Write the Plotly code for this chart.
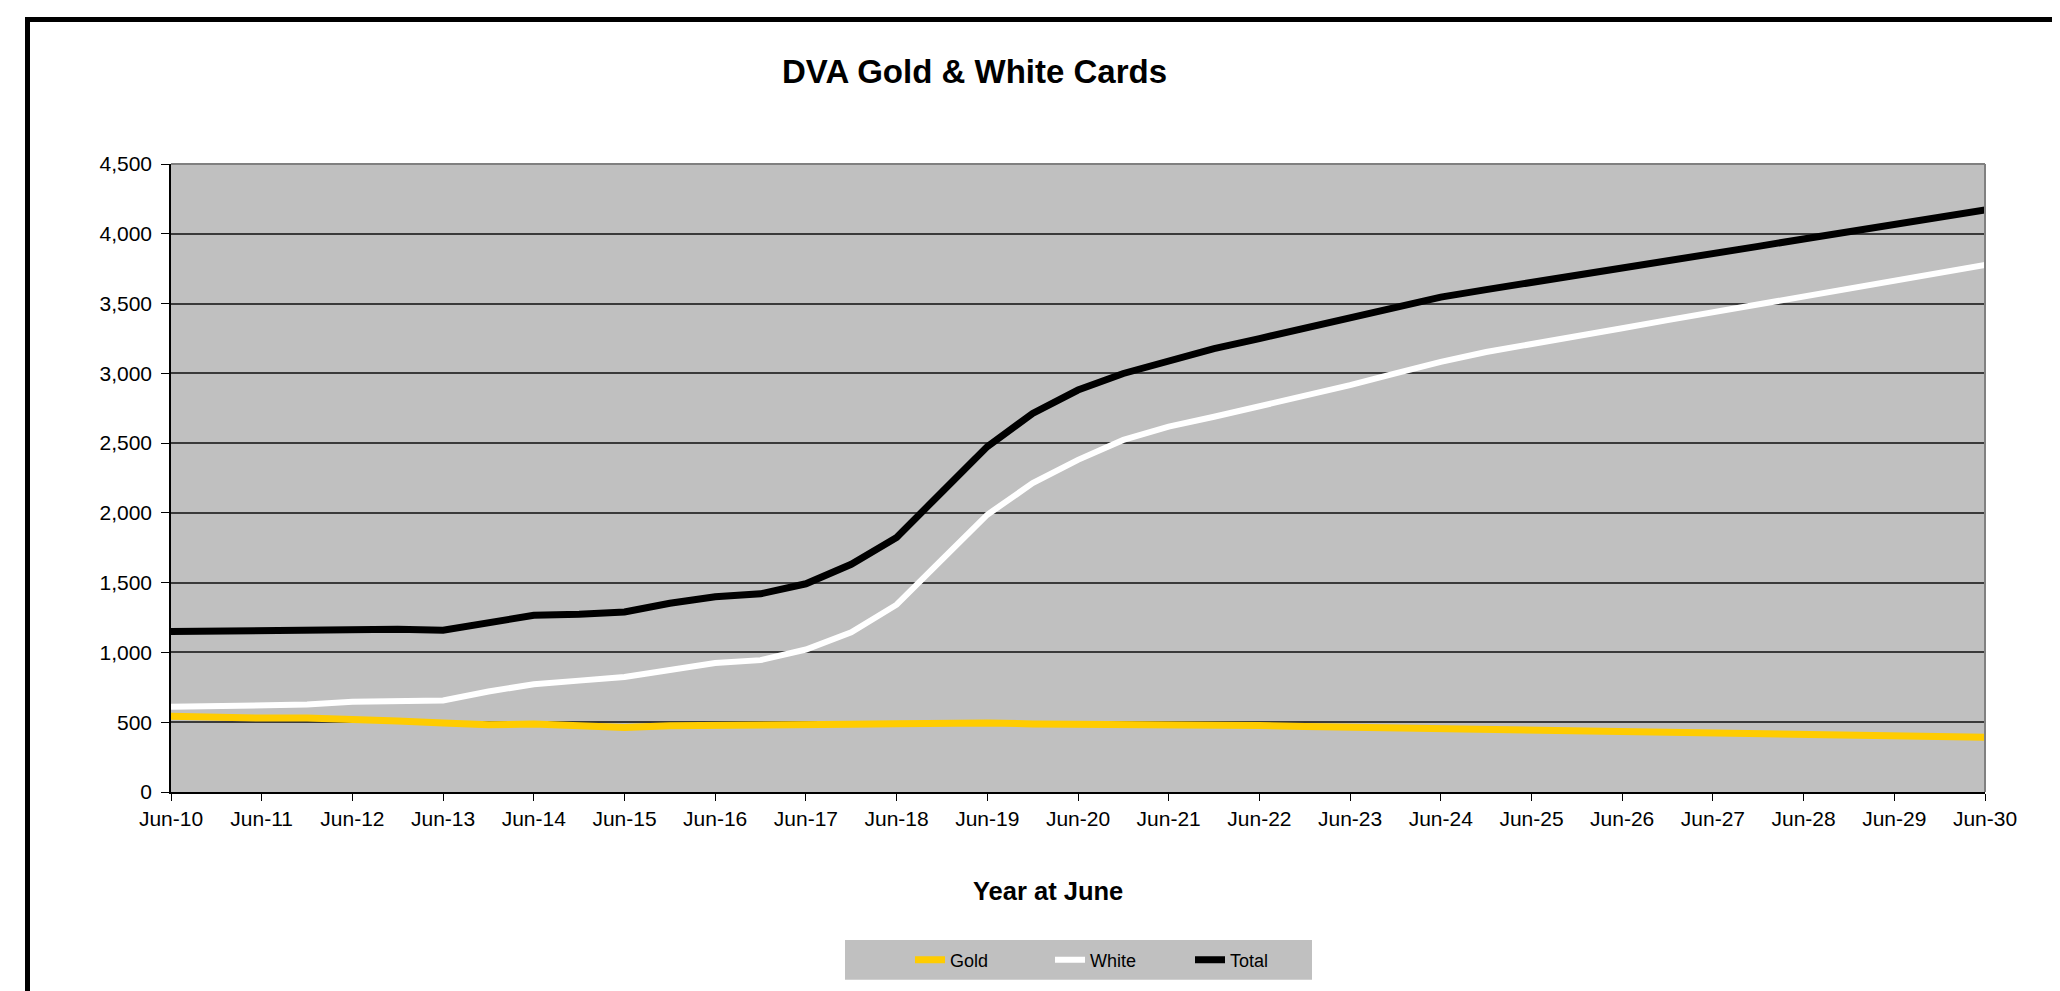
import plotly.graph_objects as go

# ---------------- data ----------------
periods = [
    "Jun-10", "Dec-10", "Jun-11", "Dec-11", "Jun-12", "Dec-12", "Jun-13", "Dec-13",
    "Jun-14", "Dec-14", "Jun-15", "Dec-15", "Jun-16", "Dec-16", "Jun-17", "Dec-17",
    "Jun-18", "Dec-18", "Jun-19", "Dec-19", "Jun-20", "Dec-20", "Jun-21", "Dec-21",
    "Jun-22", "Dec-22", "Jun-23", "Dec-23", "Jun-24", "Dec-24", "Jun-25", "Dec-25",
    "Jun-26", "Dec-26", "Jun-27", "Dec-27", "Jun-28", "Dec-28", "Jun-29", "Dec-29",
    "Jun-30",
]
tick_labels = [p for p in periods if p.startswith("Jun")]

gold = [542, 532, 530, 530, 523, 508, 494, 482, 487, 477, 463, 475, 475, 475, 473, 485,
        489, 493, 495, 488, 488, 483, 478, 478, 476, 469, 464, 459, 455, 450, 443, 438,
        433, 426, 419, 414, 409, 405, 400, 395, 393]
white = [610, 618, 625, 627, 646, 651, 656, 720, 772, 798, 824, 874, 924, 945, 1021, 1145,
         1342, 1665, 1987, 2213, 2380, 2523, 2618, 2689, 2761, 2837, 2915, 2999, 3082, 3153,
         3207, 3265, 3323, 3381, 3439, 3497, 3554, 3610, 3666, 3722, 3777]
total = [1150, 1154, 1162, 1162, 1171, 1166, 1159, 1209, 1266, 1273, 1290, 1352, 1399, 1420,
         1492, 1632, 1824, 2150, 2475, 2713, 2880, 2999, 3094, 3177, 3249, 3325, 3396, 3475,
         3546, 3600, 3650, 3700, 3752, 3805, 3857, 3910, 3963, 4015, 4068, 4120, 4170]

series_names = ["Gold", "White", "Total"]
series_colors = ["#FFCC00", "#FFFFFF", "#000000"]
series_widths = [7, 6, 7]

# ---------------- layout geometry ----------------
# The page body has an 8px margin, so the figure starts at page (8, 8).
OFF = 8
W, H = 2060 - OFF, 991 - OFF
PLOT_L, PLOT_R, PLOT_T, PLOT_B = 171, 1985, 164, 796   # page coordinates
ML, MT = PLOT_L - OFF, PLOT_T - OFF
MR, MB = W - (PLOT_R - OFF), H - (PLOT_B - OFF)
PW, PH = W - ML - MR, H - MT - MB


def px2x(px):  # page x -> paper x
    return (px - OFF - ML) / PW


def px2y(py):  # page y -> paper y
    return 1 - (py - OFF - MT) / PH


FONT = "Arial, 'Liberation Sans', sans-serif"

fig = go.Figure()
for name, vals, col, wd in zip(series_names, [gold, white, total], series_colors, series_widths):
    fig.add_trace(go.Scatter(
        x=periods, y=vals, name=name, mode="lines",
        line=dict(color=col, width=wd),
    ))

fig.update_layout(
    width=W, height=H,
    margin=dict(l=ML, r=MR, t=MT, b=MB, pad=0),
    paper_bgcolor="white",
    plot_bgcolor="#C0C0C0",
    font=dict(family=FONT, color="black", size=21),
    showlegend=True,
    legend=dict(
        orientation="h",
        x=px2x(910), xanchor="left",
        y=px2y(965), yanchor="middle",
        bgcolor="rgba(0,0,0,0)",
        borderwidth=0,
        font=dict(family=FONT, size=18, color="black"),
        entrywidth=95, entrywidthmode="pixels",
        itemwidth=30,
    ),
    xaxis=dict(
        type="category",
        categoryorder="array", categoryarray=periods,
        range=[0, len(periods) - 1],
        tickmode="array", tickvals=tick_labels, ticktext=tick_labels,
        showgrid=False, zeroline=False,
        showline=True, linecolor="black", linewidth=1.5,
        ticks="outside", ticklen=7, tickcolor="black", tickwidth=1,
        tickfont=dict(family=FONT, size=21, color="black"),
        ticklabelstandoff=0,
    ),
    yaxis=dict(
        range=[0, 4500], dtick=500, tick0=0,
        tickformat=",d",
        showgrid=True, gridcolor="#3a3a3a", gridwidth=1.5,
        zeroline=False,
        showline=True, linecolor="black", linewidth=1.5,
        ticks="outside", ticklen=8, tickcolor="black", tickwidth=1,
        tickfont=dict(family=FONT, size=21, color="black"),
        ticklabelstandoff=5,
    ),
    annotations=[
        dict(text="<b>DVA Gold &amp; White Cards</b>", xref="paper", yref="paper",
             x=px2x(974), y=px2y(71), xanchor="center", yanchor="middle",
             showarrow=False, font=dict(family=FONT, size=33, color="black")),
        dict(text="<b>Year at June</b>", xref="paper", yref="paper",
             x=px2x(1048), y=px2y(896), xanchor="center", yanchor="middle",
             showarrow=False, font=dict(family=FONT, size=25.5, color="black")),
    ],
    shapes=[
        # legend box background
        dict(type="rect", xref="paper", yref="paper",
             x0=px2x(845), x1=px2x(1312), y0=px2y(985), y1=px2y(945),
             line=dict(width=0), fillcolor="#C0C0C0", layer="below"),
        # grey plot-area border (top and right)
        dict(type="line", xref="paper", yref="paper", x0=0, x1=1, y0=1, y1=1,
             line=dict(color="#808080", width=2), layer="above"),
        dict(type="line", xref="paper", yref="paper", x0=1, x1=1, y0=0, y1=1,
             line=dict(color="#808080", width=2), layer="above"),
        # outer chart-area frame (extends past the window right and bottom)
        dict(type="rect", xref="paper", yref="paper",
             x0=px2x(27.5), x1=px2x(2150), y0=px2y(1100), y1=px2y(18.5),
             line=dict(color="black", width=5), fillcolor="rgba(0,0,0,0)", layer="above"),
    ],
)

fig.write_html("out.html")
